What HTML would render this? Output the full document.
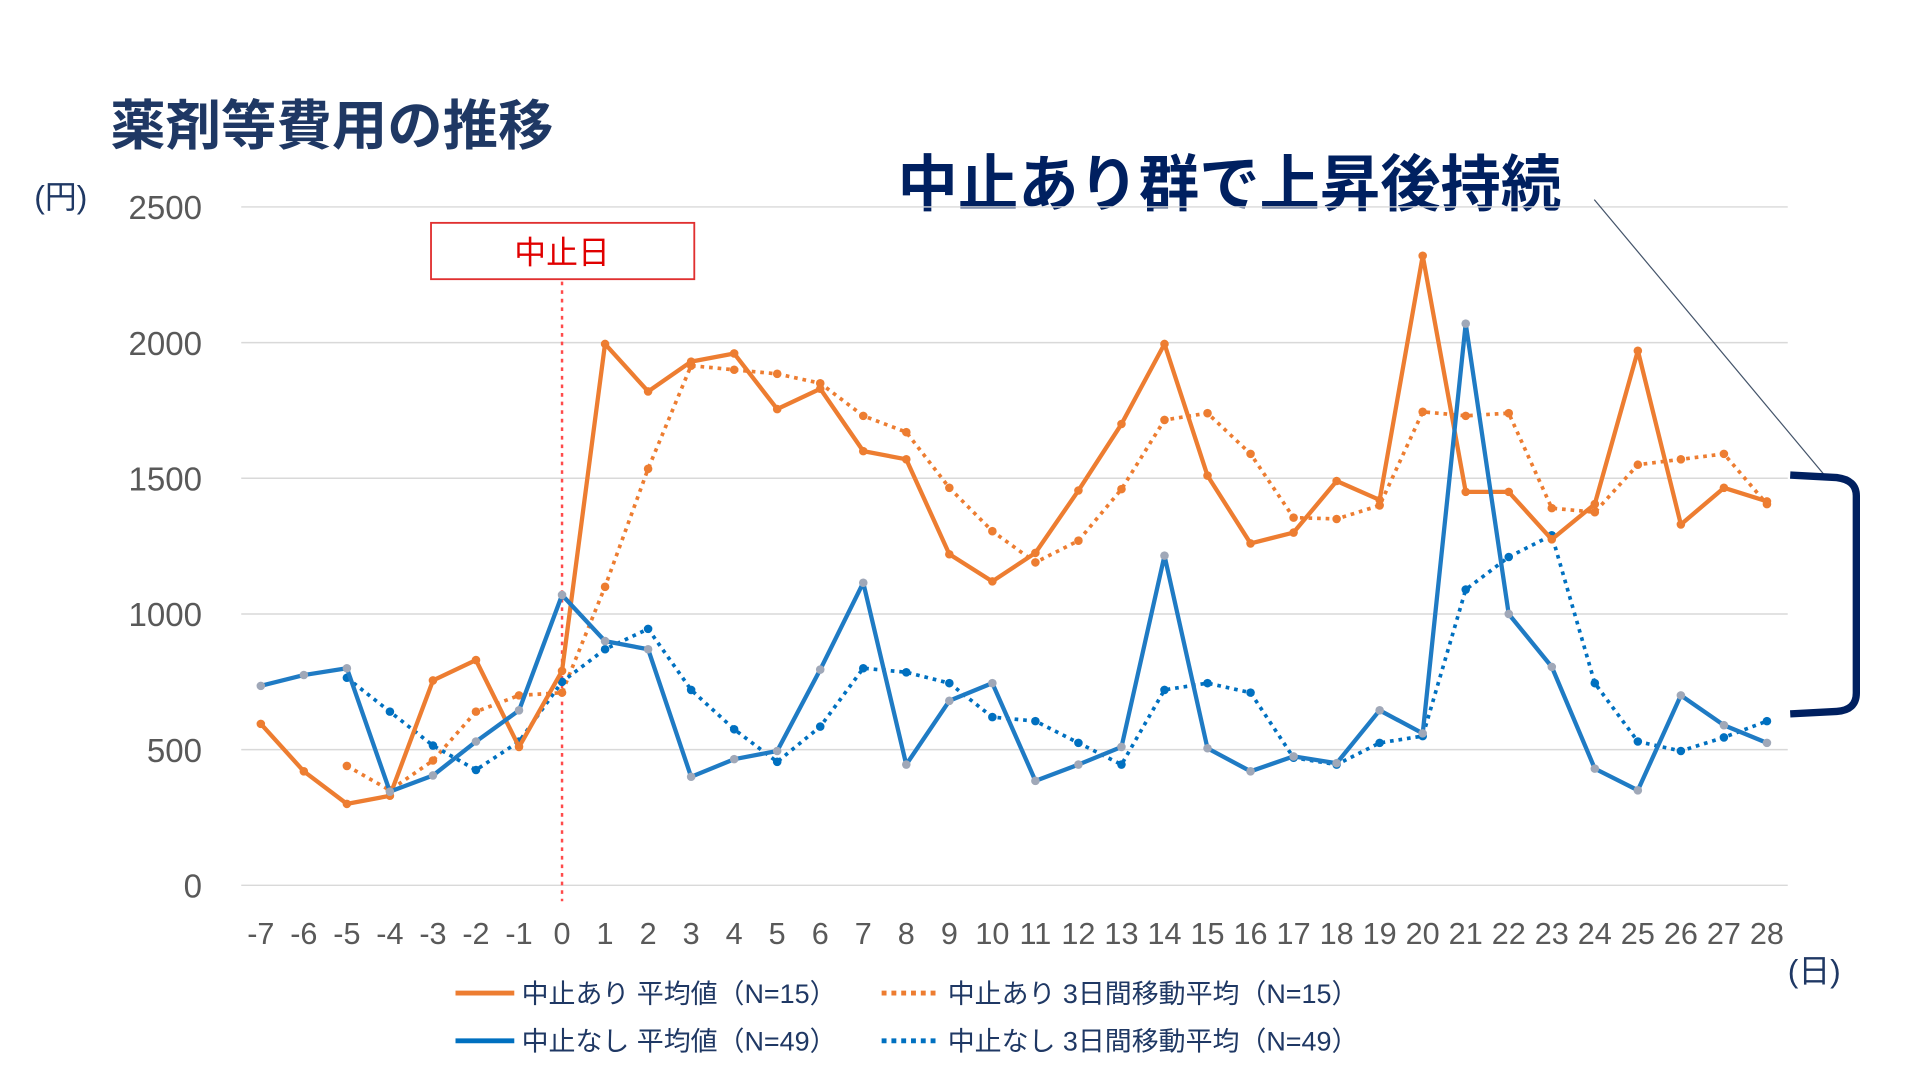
<!DOCTYPE html>
<html><head><meta charset="utf-8"><style>
html,body{margin:0;padding:0;background:#fff;}
svg{display:block;}
text{font-family:"Liberation Sans","Noto Sans CJK JP",sans-serif;}
</style></head><body>
<svg id="chart" width="1920" height="1080" viewBox="0 0 1568 882" preserveAspectRatio="none" xmlns="http://www.w3.org/2000/svg">
<text x="90" y="118" font-size="44" font-weight="bold" fill="#1F3864" textLength="362" lengthAdjust="spacingAndGlyphs">薬剤等費用の推移</text>
<text x="733" y="168" font-size="50" font-weight="bold" fill="#002060" textLength="542" lengthAdjust="spacingAndGlyphs">中止あり群で上昇後持続</text>
<text x="28" y="170" font-size="26" fill="#1F3864">(円)</text>
<text x="1460" y="802" font-size="26" fill="#1F3864">(日)</text>
<g id="grid"></g><g id="yt"></g><g id="xt"></g>
<line x1="459" y1="230" x2="459" y2="736" stroke="#FF4B4B" stroke-width="2" stroke-dasharray="3,4"/>
<rect x="352" y="182" width="215" height="46" fill="#fff" stroke="#E03030" stroke-width="1.5"/>
<text x="459" y="215" font-size="26" fill="#E00000" text-anchor="middle">中止日</text>
<g id="series"></g>
<line x1="1302" y1="163" x2="1490" y2="388" stroke="#44546A" stroke-width="1"/>
<path d="M1462,388 L1500,390 Q1516,392 1516,405 L1516,566 Q1516,580 1500,581 L1462,583" fill="none" stroke="#002060" stroke-width="6"/>
<g>
<line x1="372" y1="811" x2="420" y2="811" stroke="#ED7D31" stroke-width="4"/>
<text x="426" y="819" font-size="22" fill="#1F3864">中止あり  平均値（N=15）</text>
<line x1="720" y1="811" x2="768" y2="811" stroke="#ED7D31" stroke-width="4" stroke-dasharray="4,4"/>
<text x="774" y="819" font-size="22" fill="#1F3864">中止あり  3日間移動平均（N=15）</text>
<line x1="372" y1="850" x2="420" y2="850" stroke="#0070C0" stroke-width="4"/>
<text x="426" y="858" font-size="22" fill="#1F3864">中止なし  平均値（N=49）</text>
<line x1="720" y1="850" x2="768" y2="850" stroke="#0070C0" stroke-width="4" stroke-dasharray="4,4"/>
<text x="774" y="858" font-size="22" fill="#1F3864">中止なし  3日間移動平均（N=49）</text>
</g>
</svg>
<script>
const days = [-7,-6,-5,-4,-3,-2,-1,0,1,2,3,4,5,6,7,8,9,10,11,12,13,14,15,16,17,18,19,20,21,22,23,24,25,26,27,28];
const yTicks = [0,500,1000,1500,2000,2500];
const stopMean = [595,420,300,330,755,830,510,790,1995,1820,1930,1960,1755,1830,1600,1570,1220,1120,1225,1455,1700,1995,1510,1260,1300,1490,1420,2320,1450,1450,1275,1405,1970,1330,1465,1415];
const stopMA = [null,null,440,350,460,640,700,710,1100,1535,1915,1900,1885,1850,1730,1670,1465,1305,1190,1270,1460,1715,1740,1590,1355,1350,1400,1745,1730,1740,1390,1375,1550,1570,1590,1405];
const noStopMean = [735,775,800,345,405,530,645,1070,900,870,400,465,495,795,1115,445,680,745,385,445,510,1215,505,420,475,450,645,560,2070,1000,805,430,350,700,590,525];
const noStopMA = [null,null,765,640,515,425,530,750,870,945,720,575,455,585,800,785,745,620,605,525,445,720,745,710,470,445,525,550,1090,1210,1290,745,530,495,545,605];

const NS='http://www.w3.org/2000/svg';
const x0=213, x1=1443, yTop=169, yBot=723;
function xs(i){return x0+(x1-x0)*i/(days.length-1);}
function ys(v){return yBot-(yBot-yTop)*v/2500;}
function mk(tag,attrs,parent){const e=document.createElementNS(NS,tag);for(const k in attrs)e.setAttribute(k,attrs[k]);parent.appendChild(e);return e;}
const grid=document.getElementById('grid'), yt=document.getElementById('yt'), xt=document.getElementById('xt'), ser=document.getElementById('series');
yTicks.forEach(v=>{
  const l=mk('line',{x1:197,x2:1460,y1:ys(v),y2:ys(v),stroke:'#D9D9D9','stroke-width':1.2},grid);
  
  
  const t=mk('text',{x:165,y:ys(v)+10,'font-size':27,fill:'#595959','text-anchor':'end'},yt);
  t.textContent=v;
  
  
});
days.forEach((d,i)=>{
  const t=mk('text',{x:xs(i),y:771,'font-size':25,fill:'#595959','text-anchor':'middle'},xt);
  t.textContent=d;
  
  
});
function draw(vals,color,dashed,name,mcol){
  const g=mk('g',{},ser);
  
  
  let d='';
  vals.forEach((v,i)=>{if(v==null)return;d+=(d?'L':'M')+xs(i).toFixed(1)+','+ys(v).toFixed(1);});
  const p=mk('path',{d:d,fill:'none',stroke:color,'stroke-width':dashed?3:3.5,'stroke-dasharray':dashed?'3,4':'none','stroke-linejoin':'round'},g);
  
  
  vals.forEach((v,i)=>{if(v==null)return;
    const c=mk('circle',{cx:xs(i),cy:ys(v),r:3.5,fill:mcol},g);
    
    
  });
}
draw(stopMA,'#ED7D31',true,'stop-moving-average','#ED7D31');
draw(noStopMA,'#0070C0',true,'nostop-moving-average','#0070C0');
draw(stopMean,'#ED7D31',false,'stop-mean','#ED7D31');
draw(noStopMean,'#1F7BC4',false,'nostop-mean','#A0A8B8');
</script>
</body></html>
